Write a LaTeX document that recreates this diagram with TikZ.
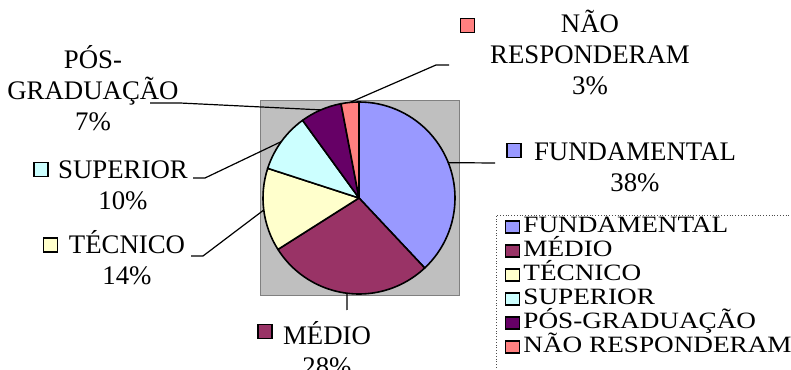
\documentclass[tikz,border=0pt]{standalone}
\usepackage{fontspec}
\setmainfont{Liberation Serif}
\usetikzlibrary{positioning}
\definecolor{cfund}{HTML}{9999FF}
\definecolor{cmedio}{HTML}{993366}
\definecolor{ctec}{HTML}{FFFFCC}
\definecolor{csup}{HTML}{CCFFFF}
\definecolor{cpos}{HTML}{660066}
\definecolor{cnao}{HTML}{FF8080}

\begin{document}
\begin{tikzpicture}[x=0.5pt, y=0.5pt, thin, slice/.style={draw=black, line width=0.8pt, line join=round}, lead/.style={draw=black, line width=0.6pt}, lbl/.style={align=center, inner sep=0pt, font=\fontsize{13.4}{15.5}\selectfont}, key/.style={draw=black, line width=0.6pt, minimum width=7pt, minimum height=7pt, inner sep=0pt}, legkey/.style={key, minimum height=6pt}, legtxt/.style={inner sep=0pt, anchor=base west, font=\fontsize{13.6}{13}\selectfont}]
	  \clip (0,0) rectangle (791,369);
	  \fill[white] (0,0) rectangle (791,369);
	  % plot area and pie
	  \draw[fill=black!25, draw=black!50] (260,74) rectangle (459,269);
	  \coordinate (c) at (359,171);
	  \foreach \a/\b/\col in {90/-46.8/cfund, -46.8/-147.6/cmedio, -147.6/-198/ctec, -198/-234/csup, -234/-259.2/cpos, -259.2/-270/cnao}
	    \draw[slice, fill=\col] (c) -- ++(\a:96) arc[start angle=\a, end angle=\b, radius=96] -- cycle;
	  \coordinate (pfund) at ([shift={(21.6:96)}]c);
	  \coordinate (pmed) at ([shift={(-97.2:96)}]c);
	  \coordinate (ptec) at ([shift={(187.2:96)}]c);
	  \coordinate (psup) at ([shift={(144:96)}]c);
	  \coordinate (ppos) at ([shift={(113.4:96)}]c);
	  \coordinate (pnao) at ([shift={(95.4:96)}]c);

	  % data labels (base = last line)
	  \node[lbl, anchor=base] (nao) at (590,274) {NÃO\\RESPONDERAM\\3\%};
	  \node[key, fill=cnao] (naokey) at (467.5,343.5) {};
	  \node[lbl, anchor=base] (pos) at (93,238) {PÓS-\\GRADUAÇÃO\\7\%};
	  \node[lbl, anchor=base] (fund) at (635,177) {FUNDAMENTAL\\38\%};
	  \node[key, fill=cfund] (fundkey) at (514,218.5) {};
	  \node[lbl, anchor=base] (sup) at (123,159) {SUPERIOR\\10\%};
	  \node[key, fill=csup] (supkey) at (41,199.5) {};
	  \node[lbl, anchor=base] (tec) at (127,84) {TÉCNICO\\14\%};
	  \node[key, fill=ctec] (teckey) at (50.5,124) {};
	  \node[lbl, anchor=base] (med) at (327,-6) {MÉDIO\\28\%};
	  \node[key, fill=cmedio] (medkey) at (265,37.5) {};

	  % leader lines
	  \coordinate (naob) at (436,304); \coordinate (naoe) at (449,304);
	  \coordinate (posb) at (180,266); \coordinate (pose) at (150,266);
	  \coordinate (supb) at (205,191); \coordinate (supe) at (193,191);
	  \coordinate (tecb) at (203,113); \coordinate (tece) at (191,113);
	  \coordinate (funde) at (495,206);
	  \coordinate (mede) at (347,59);
	  \draw[lead] (pnao) -- (naob) -- (naoe);
	  \draw[lead] (ppos) -- (posb) -- (pose);
	  \draw[lead] (psup) -- (supb) -- (supe);
	  \draw[lead] (ptec) -- (tecb) -- (tece);
	  \draw[lead] (pfund) -- (funde);
	  \draw[lead] (pmed) -- (mede);

	  % legend
	  \draw[densely dotted, black!70] (496,-10) rectangle (800,154);
	  \foreach \col/\txt [count=\i from 0] in {cfund/FUNDAMENTAL, cmedio/MÉDIO, ctec/TÉCNICO, csup/SUPERIOR, cpos/PÓS-GRADUAÇÃO, cnao/NÃO RESPONDERAM}
	  {
	    \node[legkey, fill=\col] (legkey\i) at (512.5,142-24*\i) {};
	    \node[legtxt] (leg\i) at (523,136-24*\i) {\scalebox{1}[0.86]{\txt}};
	  }
	\end{tikzpicture}
\end{document}
